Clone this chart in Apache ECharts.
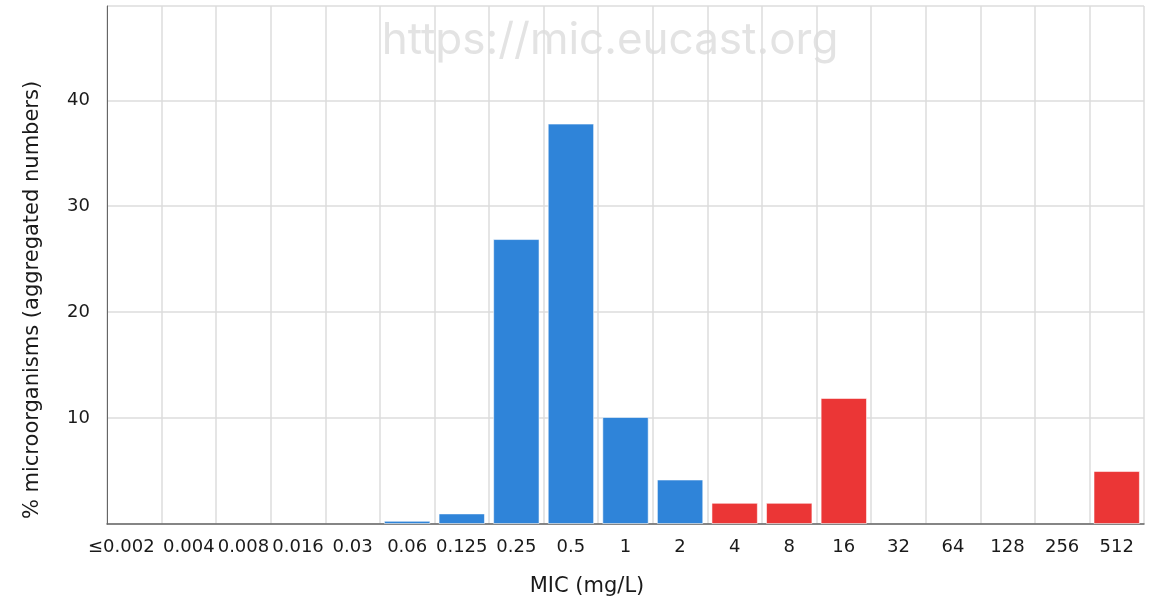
<!DOCTYPE html>
<html>
<head>
<meta charset="utf-8">
<script src="https://cdn.jsdelivr.net/npm/echarts@6/dist/echarts.min.js"></script>
<style>
  html, body { margin: 0; padding: 0; background: #fff; }
  #chart { width: 1155px; height: 603px; }
</style>
</head>
<body>
<div id="chart"></div>
<script>
const categories = ['≤0.002','0.004','0.008','0.016','0.03','0.06','0.125','0.25','0.5','1','2','4','8','16','32','64','128','256','512'];
const values = [0, 0, 0, 0, 0, 0.3, 1.0, 26.9, 37.8, 10.1, 4.2, 2.0, 2.0, 11.9, 0, 0, 0, 0, 5.0];
const resistantFrom = '4';
const yTicks = [10, 20, 30, 40];
const yTitle = '% microorganisms (aggregated numbers)';
const xTitle = 'MIC (mg/L)';
const watermark = 'https://mic.eucast.org';

const blue = '#2f84d9';
const red = '#eb3636';
const rIdx = categories.indexOf(resistantFrom);
const labelFont = '"DejaVu Sans", sans-serif';
const textColor = '#1a1a1a';

const xData = categories.map((c, i) => i === 0 ? { value: c, textStyle: { padding: [0, 26, 0, 0] } } : c);
const barData = values.map(v => (v === 0 ? null : v));

const chart = echarts.init(document.getElementById('chart'));
chart.setOption({
  animation: false,
  grid: { left: 107, right: 11, top: 6, bottom: 79, containLabel: false },
  graphic: [
    { type: 'text', x: 610, y: 19, z: 0, silent: true,
      style: { text: watermark, font: '44px Inter, sans-serif', fill: '#e3e3e3', align: 'center', verticalAlign: 'top' } },
    { type: 'text', x: 33, y: 300, rotation: Math.PI / 2, silent: true,
      style: { text: yTitle, font: '21px ' + labelFont, fill: textColor, align: 'center', verticalAlign: 'middle' } },
    { type: 'text', x: 587, y: 587, silent: true,
      style: { text: xTitle, font: '21px ' + labelFont, fill: textColor, align: 'center', verticalAlign: 'middle' } }
  ],
  xAxis: {
    type: 'category',
    data: xData,
    boundaryGap: true,
    axisLine: { lineStyle: { color: '#666', width: 1.5 } },
    axisTick: { show: false },
    axisLabel: { interval: 0, color: textColor, fontFamily: 'DejaVu Sans', fontSize: 18, margin: 14 },
    splitLine: { show: true, interval: 0, lineStyle: { color: '#dcdcdc', width: 1.5 } }
  },
  yAxis: {
    type: 'value',
    min: 0,
    max: 48.9,
    interval: 10,
    axisLine: { show: true, lineStyle: { color: '#666', width: 1 } },
    axisTick: { show: false },
    axisLabel: {
      color: textColor, fontFamily: 'DejaVu Sans', fontSize: 18, margin: 17,
      formatter: v => (yTicks.indexOf(v) >= 0 ? String(v) : '')
    },
    splitLine: { show: true, lineStyle: { color: '#dcdcdc', width: 1.5 } }
  },
  series: [{
    type: 'bar',
    data: barData,
    barCategoryGap: '15%',
    itemStyle: {
      color: p => (p.dataIndex >= rIdx ? red : blue),
      borderColor: 'rgba(255,255,255,0.55)',
      borderWidth: 1
    },
    z: 3
  }]
});
</script>
</body>
</html>
